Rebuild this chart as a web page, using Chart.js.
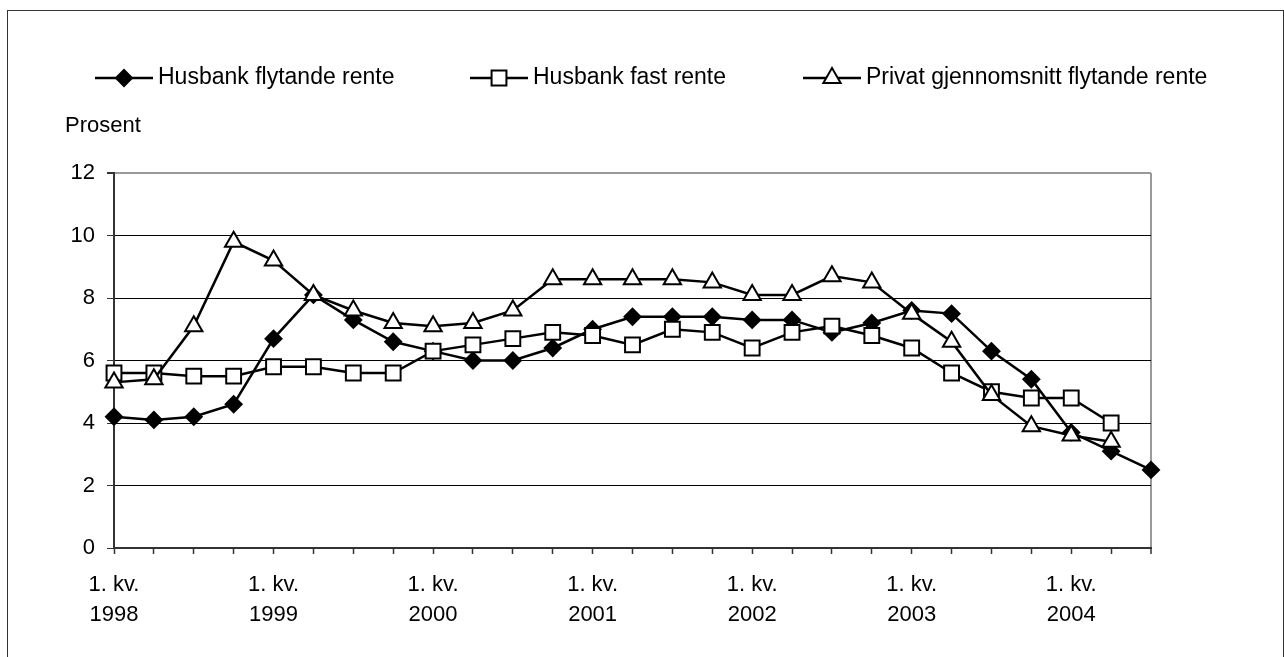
<!DOCTYPE html>
<html>
<head>
<meta charset="utf-8">
<script src="https://cdn.jsdelivr.net/npm/chart.js@4"></script>
<style>
  html, body { margin: 0; padding: 0; background: #fff; }
  #wrap { width: 1284px; height: 657px; position: relative; }
</style>
</head>
<body>
<div id="wrap"><canvas id="renteChart" width="1284" height="657"></canvas></div>
<script>
const years = ['1998', '1999', '2000', '2001', '2002', '2003', '2004'];
const quarters = ['1. kv.', '2. kv.', '3. kv.', '4. kv.'];
const categories = [];
years.forEach(y => quarters.forEach(q => categories.push(q + ' ' + y)));
categories.length = 27; // 1. kv. 1998 - 3. kv. 2004

const husbankFlytande = [4.2, 4.1, 4.2, 4.6, 6.7, 8.1, 7.3, 6.6, 6.3, 6.0, 6.0, 6.4, 7.0, 7.4, 7.4, 7.4, 7.3, 7.3, 6.9, 7.2, 7.6, 7.5, 6.3, 5.4, 3.7, 3.1, 2.5];
const husbankFast = [5.6, 5.6, 5.5, 5.5, 5.8, 5.8, 5.6, 5.6, 6.3, 6.5, 6.7, 6.9, 6.8, 6.5, 7.0, 6.9, 6.4, 6.9, 7.1, 6.8, 6.4, 5.6, 5.0, 4.8, 4.8, 4.0, null];
const privatFlytande = [5.3, 5.4, 7.1, 9.8, 9.2, 8.1, 7.6, 7.2, 7.1, 7.2, 7.6, 8.6, 8.6, 8.6, 8.6, 8.5, 8.1, 8.1, 8.7, 8.5, 7.5, 6.6, 4.9, 3.9, 3.6, 3.4, null];
const seriesNames = ['Husbank flytande rente', 'Husbank fast rente', 'Privat gjennomsnitt flytande rente'];
const yTicks = [0, 2, 4, 6, 8, 10, 12];
const yTitle = 'Prosent';

const FONT = '"Liberation Sans", Arial, sans-serif';

// legend (line + marker) and the outer frame
const extras = {
  id: 'extras',
  afterDraw(chart) {
    const ctx = chart.ctx;
    ctx.save();
    ctx.strokeStyle = '#333';
    ctx.lineWidth = 1;
    ctx.strokeRect(7.5, 10.5, 1276, 700);

    const starts = [95, 470, 803];
    chart.data.datasets.forEach((ds, i) => {
      const x0 = starts[i], y = 78;
      ctx.strokeStyle = '#000';
      ctx.lineWidth = 2.5;
      ctx.beginPath();
      ctx.moveTo(x0, y);
      ctx.lineTo(x0 + 58, y);
      ctx.stroke();
      ctx.fillStyle = ds.pointBackgroundColor;
      ctx.lineWidth = 2;
      Chart.helpers.drawPoint(ctx, {
        pointStyle: ds.pointStyle,
        radius: ds.pointRadius,
        borderWidth: 2
      }, x0 + 29, y);
      ctx.fillStyle = '#000';
      ctx.font = '23px ' + FONT;
      ctx.textBaseline = 'middle';
      ctx.textAlign = 'left';
      ctx.fillText(ds.label, x0 + 63, y);
    });

    ctx.font = '22px ' + FONT;
    ctx.textBaseline = 'middle';
    ctx.fillText(yTitle, 65, 126);
    ctx.restore();
  }
};

function makeSet(label, data, style, fill, radius, order) {
  return {
    label: label,
    data: data,
    borderColor: '#000',
    borderWidth: 2.5,
    pointStyle: style,
    pointRadius: radius,
    pointHoverRadius: radius,
    pointBackgroundColor: fill,
    pointBorderColor: '#000',
    pointBorderWidth: 2,
    tension: 0,
    fill: false,
    spanGaps: false,
    order: order
  };
}

new Chart(document.getElementById('renteChart'), {
  type: 'line',
  data: {
    labels: categories,
    datasets: [
      makeSet(seriesNames[0], husbankFlytande, 'rectRot', '#000', 8, 2),
      makeSet(seriesNames[1], husbankFast, 'rect', '#fff', 10.5, 1),
      makeSet(seriesNames[2], privatFlytande, 'triangle', '#fff', 10, 0)
    ]
  },
  options: {
    responsive: false,
    animation: false,
    layout: { padding: { top: 173, right: 133, bottom: 0, left: 0 } },
    plugins: { legend: { display: false }, tooltip: { enabled: false } },
    scales: {
      x: {
        offset: false,
        afterFit: s => { s.height = 109; },
        border: { color: '#333', width: 2 },
        grid: {
          drawOnChartArea: true,
          color: c => c.index === categories.length - 1 ? '#999' : 'rgba(0,0,0,0)',
          lineWidth: c => c.index === categories.length - 1 ? 2 : 1,
          tickColor: '#333',
          tickWidth: 1.5,
          tickLength: 6
        },
        ticks: {
          autoSkip: false,
          maxRotation: 0,
          color: '#000',
          font: { family: FONT, size: 22, lineHeight: 1.35 },
          padding: 16,
          callback: (v, i) => i % 4 === 0 ? ['1. kv.', years[i / 4]] : ''
        }
      },
      y: {
        min: 0,
        max: 12,
        afterFit: s => { s.width = 114; },
        afterBuildTicks: s => { s.ticks = yTicks.map(v => ({ value: v })); },
        border: { color: '#333', width: 2 },
        grid: {
          color: c => c.tick.value === 12 ? '#999' : '#000',
          lineWidth: c => c.tick.value === 12 ? 2 : 1,
          tickColor: '#333',
          tickLength: 7
        },
        ticks: {
          color: '#000',
          font: { family: FONT, size: 22 },
          padding: 12
        }
      }
    }
  },
  plugins: [extras]
});
</script>
</body>
</html>
